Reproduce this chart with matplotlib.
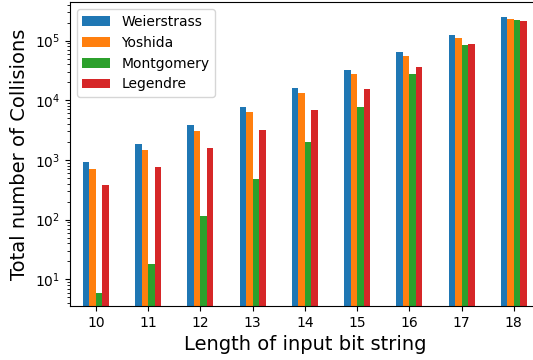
import numpy as np
import matplotlib.pyplot as plt

bit_lengths = [10, 11, 12, 13, 14, 15, 16, 17, 18]
weierstrass = [925, 1850, 3830, 7650, 15850, 31600, 63100, 126000, 251000]
yoshida = [710, 1470, 3040, 6310, 13100, 27100, 56200, 112000, 233000]
montgomery = [6, 18, 116, 483, 2000, 7650, 27100, 85800, 224000]
legendre = [383, 764, 1585, 3160, 6810, 15250, 35500, 89100, 215000]

series = [
    ('Weierstrass', weierstrass, '#1f77b4'),
    ('Yoshida', yoshida, '#ff7f0e'),
    ('Montgomery', montgomery, '#2ca02c'),
    ('Legendre', legendre, '#d62728'),
]

fig = plt.figure(figsize=(5.33, 3.6), dpi=100)
ax = fig.add_axes([0.131, 0.15, 0.882, 0.844])

x = np.arange(len(bit_lengths))
largura = 0.125
for i, (nome, valores, cor) in enumerate(series):
    ax.bar(x + (i - 1.5) * largura, valores, width=largura, color=cor, label=nome)

ax.set_yscale('log')
ax.set_ylim(3.57, 4.4e5)
ax.set_xlim(-0.5, len(bit_lengths) - 0.5)
ax.set_xticks(x)
ax.set_xticklabels([str(b) for b in bit_lengths])
ax.tick_params(axis='both', labelsize=10)
ax.spines['right'].set_visible(False)

ax.set_xlabel('Length of input bit string', fontsize=14)
ax.set_ylabel('Total number of Collisions', fontsize=14)
ax.legend(loc='upper left', fontsize=10)

plt.savefig('out.png', dpi=100)
